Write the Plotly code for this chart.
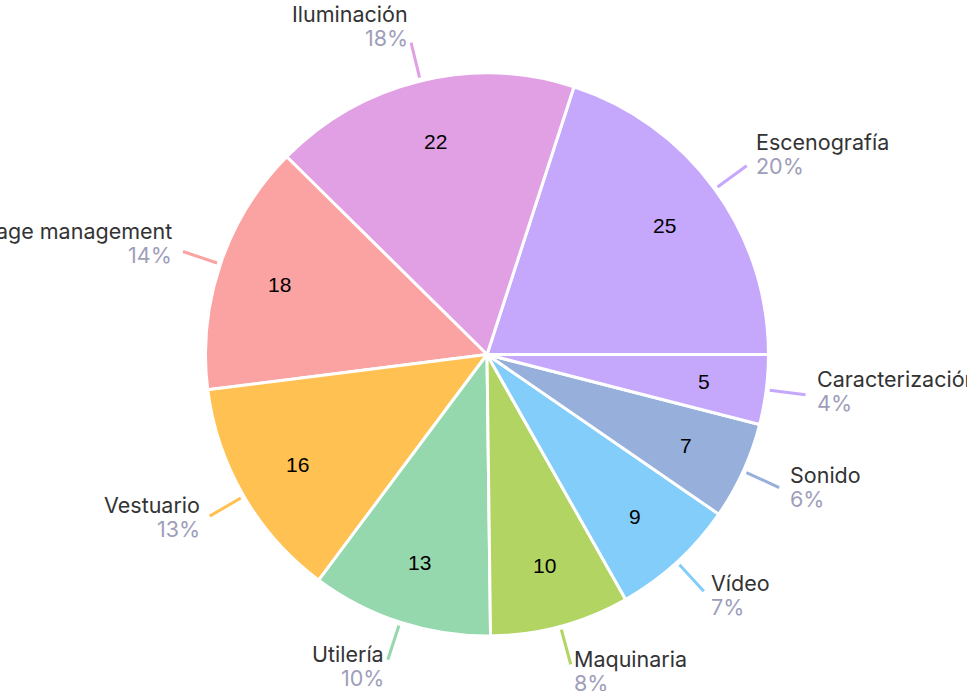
import math
import plotly.graph_objects as go

# ---- data ----
categories = ["Escenografía", "Iluminación", "Stage management", "Vestuario",
              "Utilería", "Maquinaria", "Vídeo", "Sonido", "Caracterización"]
values = [25, 22, 18, 16, 13, 10, 9, 7, 5]
colors = ["#c5a8fc", "#e2a0e4", "#fba2a2", "#ffc152", "#95d8ad",
          "#b2d462", "#82cdfa", "#97b0db", "#c5a8fc"]

W, H = 967, 691
CX, CY, R = 487, 354.5, 281.5

total = sum(values)
# first slice starts at 3 o'clock and runs counterclockwise
start_rot = 90 - 360 * values[0] / total

fig = go.Figure()
fig.add_trace(go.Pie(
    labels=categories, values=values, sort=False,
    direction="counterclockwise", rotation=start_rot,
    marker=dict(colors=colors, line=dict(color="white", width=3)),
    textinfo="none", hoverinfo="label+value+percent",
    domain=dict(x=[(CX - R) / W, (CX + R) / W],
                y=[(H - CY - R) / H, (H - CY + R) / H]),
    showlegend=False,
))

def px(x, y):
    return x / W, 1 - y / H

cum = 0
shapes = []
annotations = []
for name, v, c in zip(categories, values, colors):
    frac = v / total
    mid = (cum + frac / 2) * 2 * math.pi
    cum += frac
    cs, sn = math.cos(mid), math.sin(mid)
    # value label inside
    vx, vy = px(CX + 219 * cs, CY - 219 * sn)
    annotations.append(dict(x=vx, y=vy, xref="paper", yref="paper",
                            text=str(v), showarrow=False,
                            font=dict(family="Liberation Sans", size=21, color="#000000"),
                            xanchor="center", yanchor="middle"))
    # leader line
    x0, y0 = px(CX + 285 * cs, CY - 285 * sn)
    ex, ey = CX + 321 * cs, CY - 321 * sn
    x1, y1 = px(ex, ey)
    shapes.append(dict(type="line", xref="paper", yref="paper",
                       x0=x0, y0=y0, x1=x1, y1=y1,
                       line=dict(color=c, width=3)))
    pct = f"{round(frac * 100)}%"
    right = cs >= 0
    gap = 1 + 9 * cs * cs
    lx = ex + gap if right else ex - gap
    block_c = ey - 5 - 12 * sn
    common = dict(xref="paper", yref="paper", showarrow=False,
                  xanchor="left" if right else "right", yanchor="middle")
    nx, ny = px(lx, block_c - 12)
    annotations.append(dict(x=nx, y=ny, text=name,
                            font=dict(family="Inter", size=21.5, color="#333333"),
                            **common))
    qx, qy = px(lx, block_c + 12)
    annotations.append(dict(x=qx, y=qy, text=pct,
                            font=dict(family="Inter", size=21.5, color="#9e9ebb"),
                            **common))

fig.update_layout(
    width=W, height=H,
    margin=dict(l=0, r=0, t=0, b=0),
    paper_bgcolor="white", plot_bgcolor="white",
    shapes=shapes, annotations=annotations,
)
fig.write_html("out.html", config={"displayModeBar": False},
               post_script="document.body.style.margin='0';document.body.style.overflow='hidden';")
